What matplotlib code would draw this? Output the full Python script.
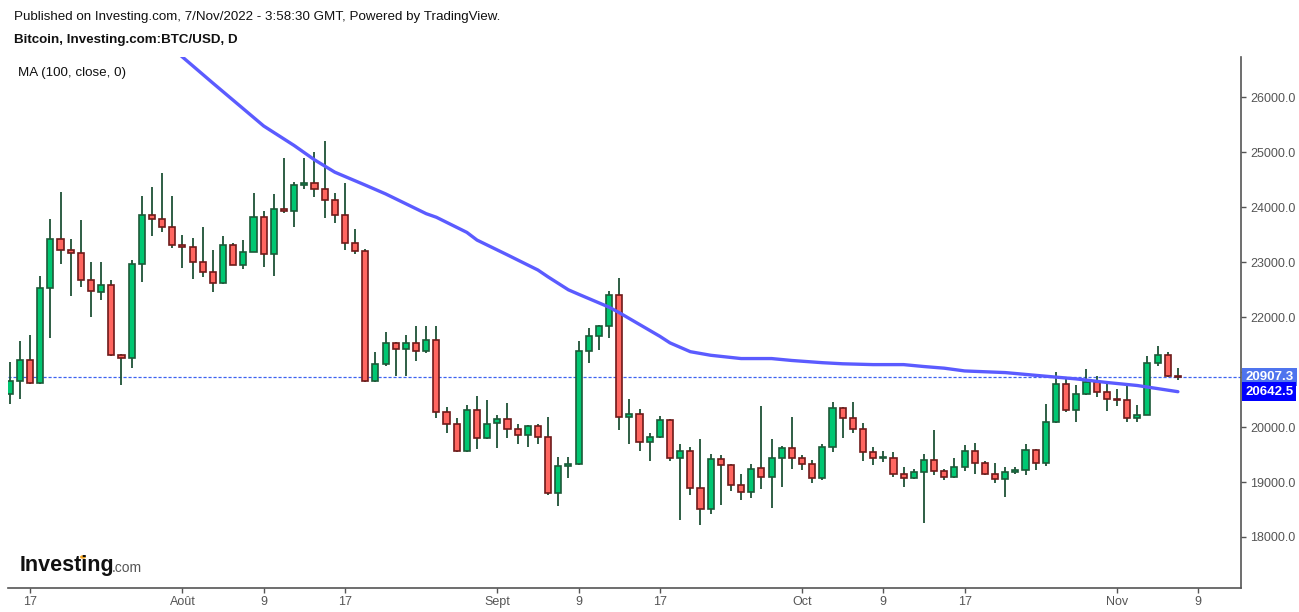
import numpy as np
import pandas as pd
import matplotlib
matplotlib.use("Agg")
import matplotlib.pyplot as plt

plt.rcParams['font.family'] = ['Liberation Sans', 'DejaVu Sans']

# daily BTC/USD candles, 15 Jul 2022 .. 7 Nov 2022
dates = pd.date_range('2022-07-15', '2022-11-07', freq='D')

opens = [20600, 20845, 21225, 20800, 22535, 23425, 23225, 23170, 22680, 22460,
         22590, 21310, 21255, 22970, 23865, 23790, 23645, 23315, 23280, 23005,
         22825, 22625, 23315, 22950, 23190, 23825, 23150, 23970, 23935, 24410,
         24445, 24320, 24120, 23865, 23355, 23205, 20840, 21150, 21530, 21420,
         21530, 21385, 21585, 20275, 20055, 19565, 20310, 19800, 20070, 20145,
         19965, 19855, 20020, 19820, 18800, 19290, 19325, 21385, 21660, 21840,
         22405, 20180, 20235, 19725, 19820, 20130, 19435, 19565, 18890, 18505,
         19415, 19310, 18945, 18815, 19250, 19090, 19435, 19620, 19435, 19325,
         19070, 19635, 20345, 20165, 19965, 19545, 19435, 19445, 19145, 19070,
         19180, 19400, 19200, 19090, 19270, 19565, 19345, 19145, 19055, 19180,
         19215, 19580, 19345, 20090, 20785, 20310, 20600, 20820, 20640, 20510,
         20490, 20165, 20220, 21165, 21310, 20920]
highs = [21190, 21570, 21665, 22740, 23775, 24270, 23415, 23760, 23010, 23010,
         22665, 21335, 23045, 24195, 24360, 24615, 24195, 23500, 23430, 23630,
         23225, 23465, 23355, 23395, 24250, 23925, 24235, 24890, 24450, 24890,
         25010, 25210, 24250, 24435, 23595, 23230, 21370, 21720, 21540, 21680,
         21845, 21830, 21830, 20370, 20170, 20400, 20570, 20500, 20220, 20435,
         20055, 20035, 20055, 20180, 19455, 19455, 21565, 21805, 21850, 22480,
         22715, 20510, 20330, 19890, 20205, 20140, 19695, 19635, 19785, 19515,
         19495, 19330, 19150, 19330, 20390, 19785, 19660, 20190, 19490, 19400,
         19695, 20460, 20370, 20460, 20075, 19635, 19565, 19545, 19270, 19235,
         19515, 19945, 19235, 19435, 19670, 19710, 19380, 19345, 19270, 19270,
         19690, 19600, 20420, 21000, 20895, 20765, 21055, 20930, 20840, 20690,
         20785, 20400, 21295, 21475, 21365, 21075]
lows = [20425, 20515, 20790, 20790, 21610, 22965, 22380, 22545, 22000, 22305,
        21300, 20760, 21070, 22635, 23475, 23545, 23260, 22890, 22690, 22725,
        22455, 22610, 22940, 22870, 23180, 22910, 22745, 23900, 23635, 24335,
        24185, 23810, 23715, 23220, 23150, 20820, 20810, 21105, 20920, 20920,
        21195, 21350, 20155, 19890, 19550, 19550, 19600, 19790, 19620, 19800,
        19690, 19635, 19690, 18755, 18570, 19070, 19310, 21165, 21405, 21620,
        19945, 19690, 19565, 19380, 19800, 19375, 18300, 18770, 18225, 18410,
        18590, 18845, 18680, 18715, 18880, 18535, 18900, 19230, 19210, 18980,
        19035, 19545, 19800, 19890, 19380, 19310, 19360, 19090, 18905, 19055,
        18250, 19125, 19035, 19080, 19200, 19145, 19130, 18980, 18735, 19145,
        19125, 19215, 19290, 20080, 20275, 20090, 20590, 20540, 20290, 20385,
        20090, 20090, 20210, 21110, 20910, 20855]
closes = [20845, 21225, 20800, 22535, 23425, 23225, 23170, 22680, 22480, 22590,
          21310, 21255, 22970, 23865, 23790, 23645, 23315, 23280, 23005, 22825,
          22625, 23315, 22950, 23190, 23825, 23150, 23970, 23935, 24410, 24445,
          24320, 24120, 23865, 23355, 23205, 20840, 21150, 21530, 21420, 21530,
          21385, 21585, 20275, 20055, 19565, 20310, 19800, 20055, 20145, 19965,
          19855, 20020, 19820, 18800, 19290, 19325, 21385, 21660, 21840, 22405,
          20180, 20235, 19725, 19820, 20130, 19435, 19565, 18890, 18505, 19415,
          19310, 18945, 18815, 19235, 19090, 19435, 19620, 19435, 19325, 19070,
          19635, 20345, 20165, 19965, 19545, 19435, 19445, 19145, 19070, 19180,
          19400, 19200, 19090, 19270, 19565, 19345, 19145, 19055, 19180, 19215,
          19580, 19345, 20090, 20785, 20310, 20600, 20820, 20640, 20510, 20490,
          20165, 20220, 21165, 21310, 20920, 20907.3]

# 100-day moving average at these day offsets
ma_day = [16, 17, 20, 25, 28, 30, 32, 35, 37, 41, 42, 45, 46, 49, 52, 53, 55,
          56, 59, 60, 62, 64, 65, 67, 69, 72, 75, 77, 80, 82, 85, 88, 90, 92,
          94, 98, 101, 105, 108, 111, 115]
ma_val = [26890, 26730, 26255, 25475, 25120, 24860, 24635, 24400, 24240, 23880,
          23815, 23540, 23400, 23130, 22855, 22730, 22495, 22415, 22180, 22080,
          21865, 21650, 21530, 21370, 21305, 21245, 21245, 21210, 21170, 21150,
          21135, 21135, 21100, 21070, 21020, 20990, 20940, 20875, 20810, 20755,
          20642.5]

tick_dates = ['2022-07-17', '2022-08-01', '2022-08-09', '2022-08-17',
              '2022-09-01', '2022-09-09', '2022-09-17', '2022-10-01',
              '2022-10-09', '2022-10-17', '2022-11-01', '2022-11-09']
tick_labels = ['17', 'Août', '9', '17', 'Sept', '9', '17', 'Oct', '9', '17',
               'Nov', '9']
y_ticks = [18000, 19000, 20000, 21000, 22000, 23000, 24000, 25000, 26000]

last_price = closes[-1]
last_ma = ma_val[-1]

o = np.array(opens, dtype=float)
h = np.array(highs, dtype=float)
l = np.array(lows, dtype=float)
c = np.array(closes, dtype=float)
x = np.arange(len(dates))
up = c >= o

fig = plt.figure(figsize=(12.99, 6.12), dpi=100)
ax = fig.add_axes([0.00616, 0.0392, 0.9491, 0.8677])

ax.vlines(x, l, h, color='#1e5236', lw=1.3, zorder=2)
bottom = np.minimum(o, c)
height = np.maximum(np.abs(c - o), 12)
ax.bar(x[up], height[up], bottom=bottom[up], width=0.6, color='#00c772',
       edgecolor='#1c5a38', lw=1.2, zorder=3)
ax.bar(x[~up], height[~up], bottom=bottom[~up], width=0.6, color='#ff6660',
       edgecolor='#6e1a1a', lw=1.2, zorder=3)

ax.plot(ma_day, ma_val, color='#5b5bff', lw=2.4, zorder=4, solid_capstyle='round')
ax.axhline(last_price, color='#3d63f0', lw=0.9, ls=(0, (2.5, 1.5)), zorder=1)

start = dates[0]
ax.set_xlim(-0.17, 121.2)
ax.set_ylim(17072, 26730)
tick_pos = [(pd.Timestamp(d) - start).days for d in tick_dates]
ax.set_xticks(tick_pos)
ax.set_xticklabels(tick_labels)
ax.set_yticks(y_ticks)
ax.set_yticklabels(['%.1f' % v for v in y_ticks])
ax.yaxis.tick_right()

for side in ['top', 'left']:
    ax.spines[side].set_visible(False)
for side in ['right', 'bottom']:
    ax.spines[side].set_color('#555555')
    ax.spines[side].set_linewidth(1.2)
ax.tick_params(axis='both', colors='#555555', labelcolor='#555555',
               labelsize=9, length=3.5, width=1, direction='out')
ax.tick_params(axis='x', pad=2)
ax.tick_params(axis='y', pad=3)

# price labels on the right axis
ax.annotate('%.1f' % last_price, xy=(1.0, last_price),
            xycoords=('axes fraction', 'data'), xytext=(3, 0),
            textcoords='offset points', ha='left', va='center',
            color='white', fontsize=9.5, fontweight='bold', annotation_clip=False,
            zorder=10,
            bbox=dict(boxstyle='square,pad=0.25', fc='#4f74ee', ec='none'))
ax.annotate('%.1f' % last_ma, xy=(1.0, last_ma),
            xycoords=('axes fraction', 'data'), xytext=(3, 0),
            textcoords='offset points', ha='left', va='center',
            color='white', fontsize=9.5, fontweight='bold', annotation_clip=False,
            zorder=10,
            bbox=dict(boxstyle='square,pad=0.25', fc='#0000ff', ec='none'))

fig.text(14 / 1299, 1 - 17 / 612,
         'Published on Investing.com, 7/Nov/2022 - 3:58:30 GMT, Powered by TradingView.',
         fontsize=9.6, va='center', ha='left', color='#111111')
fig.text(14 / 1299, 1 - 40 / 612, 'Bitcoin, Investing.com:BTC/USD, D',
         fontsize=9.6, fontweight='bold', va='center', ha='left', color='#111111')
fig.text(18 / 1299, 1 - 73 / 612, 'MA (100, close, 0)',
         fontsize=9.6, va='center', ha='left', color='#111111')

# Investing.com logo
fig.text(20 / 1299, 1 - 566 / 612, 'Investing', fontsize=15.5, fontweight='bold',
             va='center', ha='left', color='#111111')
fig.text(112 / 1299, 1 - 568 / 612, '.com', fontsize=10, va='center', ha='left',
         color='#555555')
fig.patches.append(plt.Circle((83 / 1299, 1 - 557 / 612), 0.0017,
                              transform=fig.transFigure, color='#f5a623',
                              figure=fig))

fig.savefig('out.png', dpi=100)
